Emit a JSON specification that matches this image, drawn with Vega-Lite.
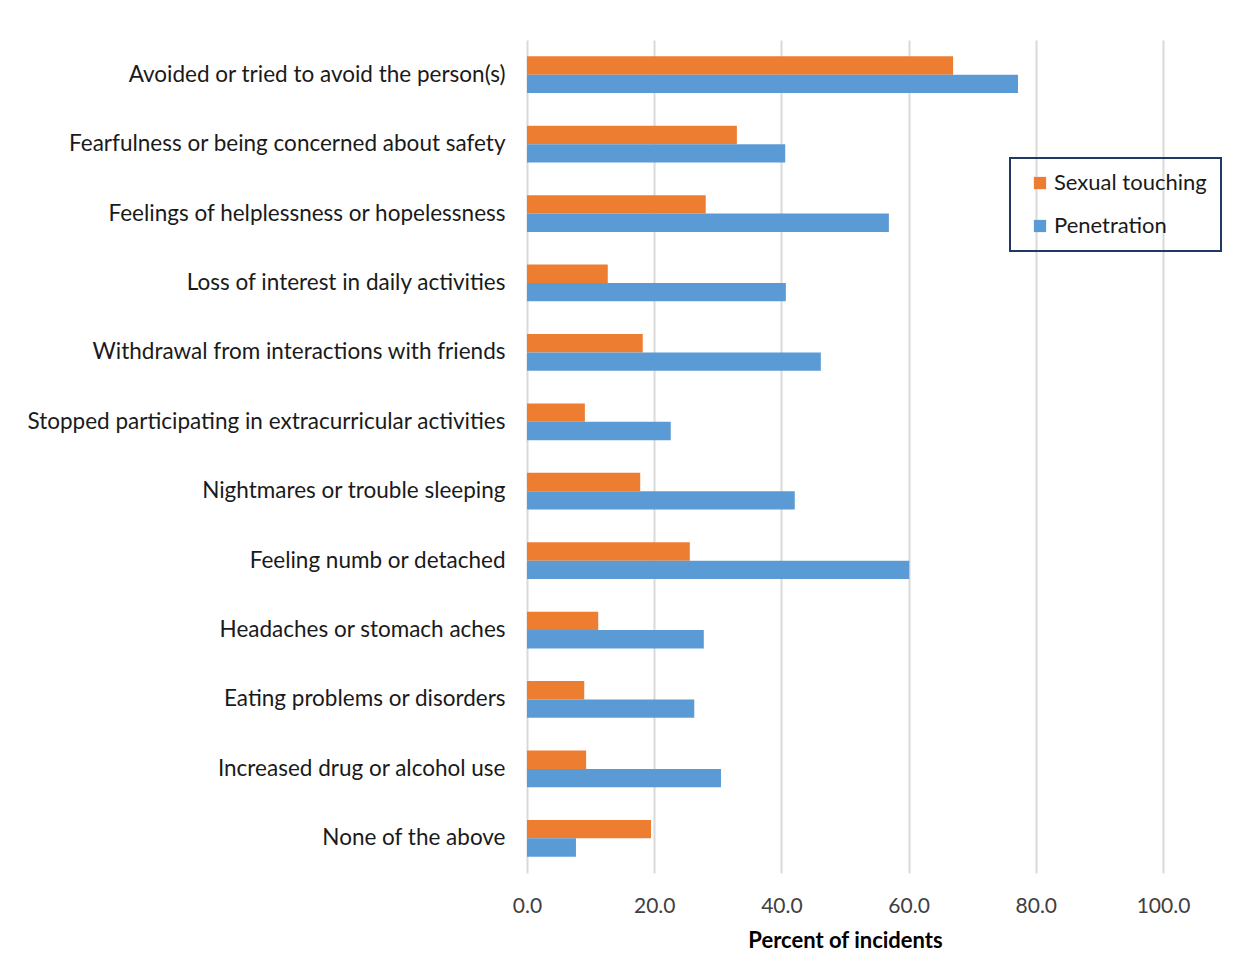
{
  "$schema": "https://vega.github.io/schema/vega-lite/v6.json",
  "autosize": {"type": "none"},
  "width": 636,
  "height": 833,
  "padding": {"left": 527, "top": 40, "right": 94, "bottom": 94},
  "background": "white",
  "config": {
    "font": "Lato",
    "view": {"stroke": null},
    "axis": {"labelFont": "Lato", "titleFont": "Lato", "labelColor": "#404040", "titleColor": "#000000"}
  },
  "data": {
    "values": [
      {"cat": "Avoided or tried to avoid the person(s)", "type": "Sexual touching", "value": 67.0},
      {"cat": "Avoided or tried to avoid the person(s)", "type": "Penetration", "value": 77.2},
      {"cat": "Fearfulness or being concerned about safety", "type": "Sexual touching", "value": 33.0},
      {"cat": "Fearfulness or being concerned about safety", "type": "Penetration", "value": 40.6},
      {"cat": "Feelings of helplessness or hopelessness", "type": "Sexual touching", "value": 28.1},
      {"cat": "Feelings of helplessness or hopelessness", "type": "Penetration", "value": 56.9},
      {"cat": "Loss of interest in daily activities", "type": "Sexual touching", "value": 12.7},
      {"cat": "Loss of interest in daily activities", "type": "Penetration", "value": 40.7},
      {"cat": "Withdrawal from interactions with friends", "type": "Sexual touching", "value": 18.2},
      {"cat": "Withdrawal from interactions with friends", "type": "Penetration", "value": 46.2},
      {"cat": "Stopped participating in extracurricular activities", "type": "Sexual touching", "value": 9.1},
      {"cat": "Stopped participating in extracurricular activities", "type": "Penetration", "value": 22.6},
      {"cat": "Nightmares or trouble sleeping", "type": "Sexual touching", "value": 17.8},
      {"cat": "Nightmares or trouble sleeping", "type": "Penetration", "value": 42.1},
      {"cat": "Feeling numb or detached", "type": "Sexual touching", "value": 25.6},
      {"cat": "Feeling numb or detached", "type": "Penetration", "value": 60.1},
      {"cat": "Headaches or stomach aches", "type": "Sexual touching", "value": 11.2},
      {"cat": "Headaches or stomach aches", "type": "Penetration", "value": 27.8},
      {"cat": "Eating problems or disorders", "type": "Sexual touching", "value": 9.0},
      {"cat": "Eating problems or disorders", "type": "Penetration", "value": 26.3},
      {"cat": "Increased drug or alcohol use", "type": "Sexual touching", "value": 9.3},
      {"cat": "Increased drug or alcohol use", "type": "Penetration", "value": 30.5},
      {"cat": "None of the above", "type": "Sexual touching", "value": 19.5},
      {"cat": "None of the above", "type": "Penetration", "value": 7.7}
    ]
  },
  "mark": {"type": "bar"},
  "encoding": {
    "y": {
      "field": "cat", "type": "nominal", "sort": null,
      "scale": {"paddingInner": 0.47, "paddingOuter": 0.235},
      "axis": {"title": null, "domain": false, "ticks": false, "labelFontSize": 22.5, "labelPadding": 22, "labelLimit": 600, "labelColor": "#1a1a1a"}
    },
    "yOffset": {"field": "type", "type": "nominal", "sort": ["Sexual touching", "Penetration"]},
    "x": {
      "field": "value", "type": "quantitative",
      "scale": {"domain": [0, 100], "nice": false},
      "axis": {
        "title": "Percent of incidents", "titleFontSize": 22, "titleFontWeight": "bold", "titlePadding": 14,
        "format": ".1f", "values": [0, 20, 40, 60, 80, 100], "labelFlush": false,
        "domain": false, "ticks": false, "labelFontSize": 21, "labelPadding": 22,
        "grid": true, "gridColor": "#d9d9d9", "gridWidth": 2, "labelColor": "#404040"
      }
    },
    "color": {
      "field": "type", "type": "nominal",
      "scale": {"domain": ["Sexual touching", "Penetration"], "range": ["#ED7D31", "#5B9BD5"]},
      "legend": {
        "title": null, "orient": "none", "legendX": 483, "legendY": 118,
        "strokeColor": "#1F3864", "padding": 14, "symbolOffset": 5,
        "labelFontSize": 22, "labelColor": "#1a1a1a", "symbolType": "square", "symbolSize": 150,
        "rowPadding": 21, "labelOffset": 3,
        "encode": {"legend": {"update": {"strokeWidth": {"value": 2}}}}
      }
    }
  }
}
